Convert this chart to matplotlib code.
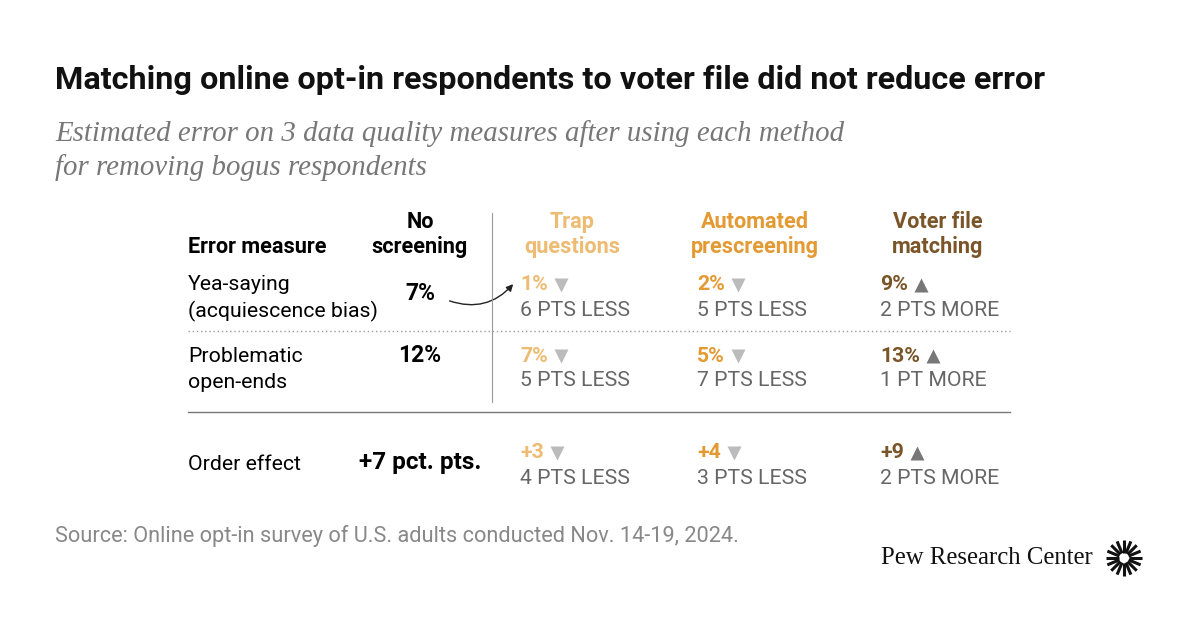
import matplotlib.pyplot as plt
from matplotlib.patches import FancyArrowPatch
import numpy as np

plt.rcParams['font.family'] = ['Roboto', 'DejaVu Sans']

measures = [["Yea-saying", "(acquiescence bias)"], ["Problematic", "open-ends"], ["Order effect"]]
no_screening = ["7%", "12%", "+7 pct. pts."]
methods = [["Trap", "questions"], ["Automated", "prescreening"], ["Voter file", "matching"]]
method_colors = ["#EDBB72", "#E39A33", "#7A5528"]
values = [["1%", "2%", "9%"], ["7%", "5%", "13%"], ["+3", "+4", "+9"]]
diffs = [["6 PTS LESS", "5 PTS LESS", "2 PTS MORE"],
         ["5 PTS LESS", "7 PTS LESS", "1 PT MORE"],
         ["4 PTS LESS", "3 PTS LESS", "2 PTS MORE"]]
up = [[False, False, True], [False, False, True], [False, False, True]]

fig = plt.figure(figsize=(12, 6.28), dpi=100)
ax = fig.add_axes([0, 0, 1, 1])
ax.set_xlim(0, 1200)
ax.set_ylim(628, 0)
ax.axis('off')
renderer = fig.canvas.get_renderer()

ax.text(55, 80, "Matching online opt-in respondents to voter file did not reduce error",
        fontsize=23.3, fontweight='bold', va='center', color='#111')
ax.text(55, 134, "Estimated error on 3 data quality measures after using each method",
        fontsize=20.8, style='italic', family='Liberation Serif', color='#777', va='center')
ax.text(55, 168, "for removing bogus respondents",
        fontsize=20.8, style='italic', family='Liberation Serif', color='#777', va='center')

body = 15.3
hdr = 15.6
ax.text(188, 247, "Error measure", fontsize=hdr, fontweight='bold', va='center')
ax.text(420, 222, "No", fontsize=hdr, fontweight='bold', va='center', ha='center')
ax.text(420, 247, "screening", fontsize=hdr, fontweight='bold', va='center', ha='center')
col_center = [572, 755, 938]
col_left = [520, 697, 880]
for j, m in enumerate(methods):
    ax.text(col_center[j], 222, m[0], fontsize=hdr, fontweight='bold', va='center', ha='center', color=method_colors[j])
    ax.text(col_center[j], 247, m[1], fontsize=hdr, fontweight='bold', va='center', ha='center', color=method_colors[j])

ax.plot([492, 492], [213, 402], color='#999', lw=0.8)
ax.plot([188, 1010], [331, 331], color='#999', lw=1, ls=(0, (1, 2)))
ax.plot([188, 1010], [412, 412], color='#777', lw=1)

row_top = [285, 356, 453]
for i in range(3):
    y0 = row_top[i]
    if len(measures[i]) == 2:
        ax.text(188, y0, measures[i][0], fontsize=body, va='center')
        ax.text(188, y0 + 26, measures[i][1], fontsize=body, va='center')
        vy = y0 + 8 if i == 0 else y0
    else:
        ax.text(188, y0 + 12, measures[i][0], fontsize=body, va='center')
        vy = y0 + 10
    ax.text(420, vy, no_screening[i], fontsize=16.5 if i < 2 else 17.5, fontweight='bold', va='center', ha='center')
    for j in range(3):
        t = ax.text(col_left[j], y0, values[i][j], fontsize=body, fontweight='bold', va='center', color=method_colors[j])
        bb = t.get_window_extent(renderer)
        tx = bb.x1 + 13
        ax.plot(tx, y0, marker='^' if up[i][j] else 'v', ms=10,
                color='#777' if up[i][j] else '#BBB', mec='none')
        ax.text(col_left[j], y0 + 25, diffs[i][j], fontsize=body, va='center', color='#666')

arrow = FancyArrowPatch((447, 300), (515, 282), connectionstyle="arc3,rad=0.35",
                        arrowstyle='-|>', mutation_scale=10, color='#222', lw=1)
ax.add_patch(arrow)

ax.text(55, 536, "Source: Online opt-in survey of U.S. adults conducted Nov. 14-19, 2024.",
        fontsize=15.7, color='#888', va='center')
ax.text(1093, 558, "Pew Research Center", fontsize=17.8, family='Liberation Serif', va='center', ha='right', color='#111')
for a in np.linspace(0, 2 * np.pi, 16, endpoint=False):
    ax.plot([1124 + 5 * np.cos(a), 1124 + 18 * np.cos(a)],
            [558 + 5 * np.sin(a), 558 + 18 * np.sin(a)], color='#111', lw=2.2, solid_capstyle='butt')

fig.savefig("out.png", dpi=100)
